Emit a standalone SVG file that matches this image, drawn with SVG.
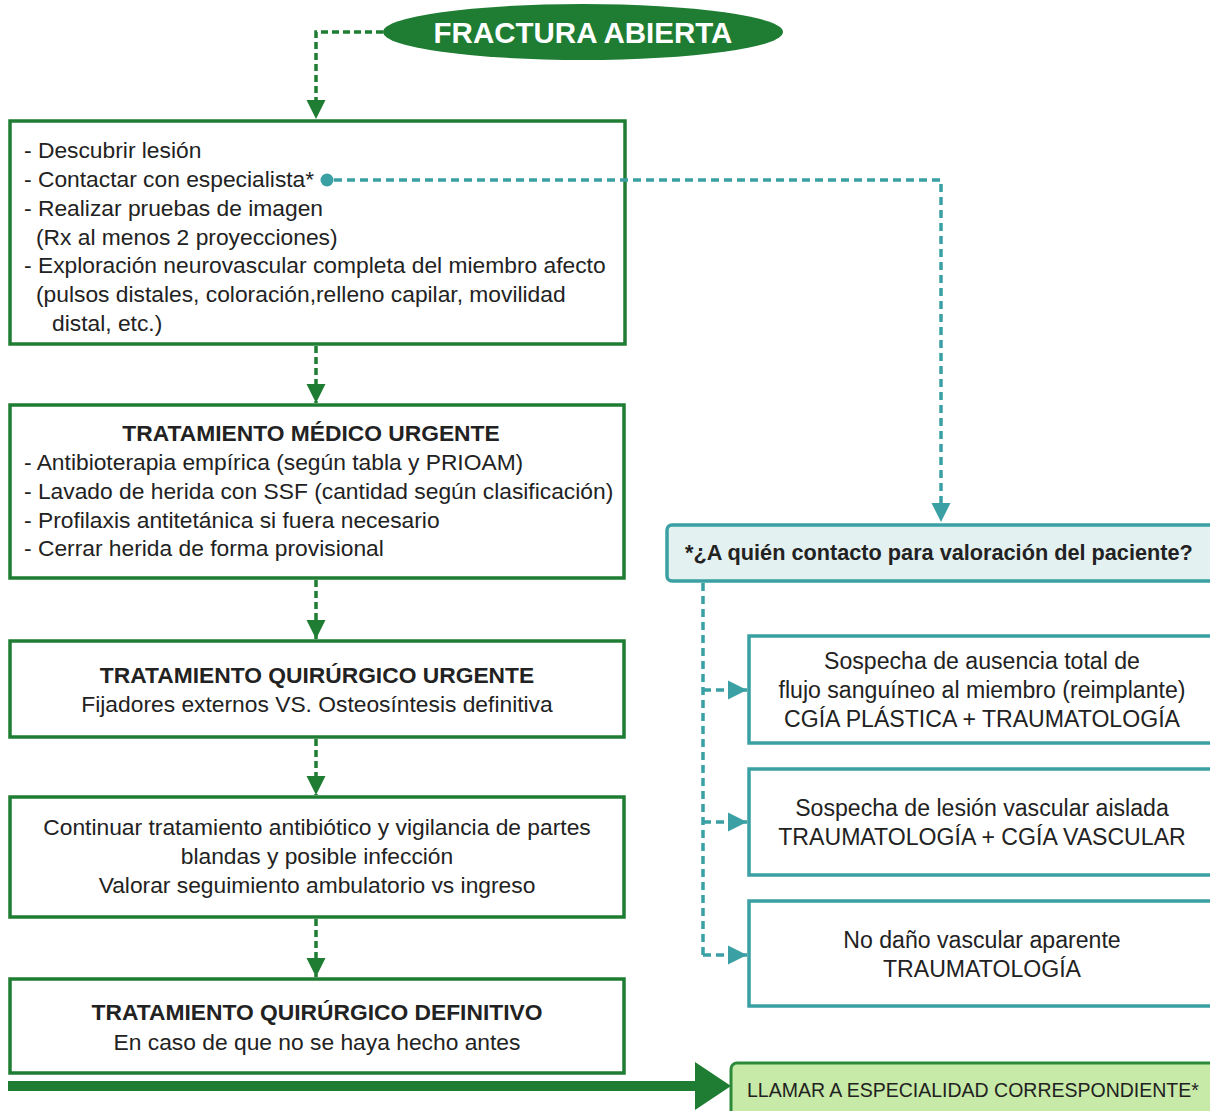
<svg xmlns="http://www.w3.org/2000/svg" width="1210" height="1111" viewBox="0 0 1210 1111">
<style>
.gbox{fill:#fff;stroke:#1e7d32;stroke-width:3.5}
.tbox{fill:#fff;stroke:#3aa0a4;stroke-width:3.5}
.t{font-family:"Liberation Sans Narrow","Liberation Sans",sans-serif;font-size:22.8px;fill:#222}
.r{font-size:23.1px}
.b{font-weight:bold}
.c{text-anchor:middle}
.gdash{fill:none;stroke:#1e7d32;stroke-width:3.5;stroke-dasharray:7 4}
.tdash{fill:none;stroke:#3aa0a4;stroke-width:3.5;stroke-dasharray:8 5}
</style>
<defs>
<marker id="ga" viewBox="0 0 10 10" refX="10" refY="5" markerWidth="5.5" markerHeight="5.5" orient="auto" markerUnits="strokeWidth"><path d="M0,0 L10,5 L0,10 Z" fill="#1e7d32"/></marker>
<marker id="ta" viewBox="0 0 10 10" refX="10" refY="5" markerWidth="5.5" markerHeight="5.5" orient="auto" markerUnits="strokeWidth"><path d="M0,0 L10,5 L0,10 Z" fill="#3aa0a4"/></marker>
</defs>
<rect width="1210" height="1111" fill="#fff"/>

<g id="fractura">
<ellipse cx="583" cy="32" rx="200" ry="28" fill="#1e7d32"/>
<text class="t b c" x="583" y="43" style="font-size:29.5px;fill:#fff">FRACTURA ABIERTA</text>
</g>

<g id="box1">
<rect class="gbox" x="10" y="121" width="615" height="223"/>
<text class="t" x="24" y="158">- Descubrir lesión</text>
<text class="t" x="24" y="187">- Contactar con especialista*</text>
<text class="t" x="24" y="216">- Realizar pruebas de imagen</text>
<text class="t" x="36" y="245">(Rx al menos 2 proyecciones)</text>
<text class="t" x="24" y="273">- Exploración neurovascular completa del miembro afecto</text>
<text class="t" x="36" y="302">(pulsos distales, coloración,relleno capilar, movilidad</text>
<text class="t" x="52" y="331">distal, etc.)</text>
</g>

<g id="box2">
<rect class="gbox" x="10" y="405" width="614" height="173"/>
<text class="t b c" x="311" y="441">TRATAMIENTO MÉDICO URGENTE</text>
<text class="t" x="24" y="470">- Antibioterapia empírica (según tabla y PRIOAM)</text>
<text class="t" x="24" y="499">- Lavado de herida con SSF (cantidad según clasificación)</text>
<text class="t" x="24" y="528">- Profilaxis antitetánica si fuera necesario</text>
<text class="t" x="24" y="556">- Cerrar herida de forma provisional</text>
</g>

<g id="box3">
<rect class="gbox" x="10" y="641" width="614" height="96"/>
<text class="t b c" x="317" y="683">TRATAMIENTO QUIRÚRGICO URGENTE</text>
<text class="t c" x="317" y="712">Fijadores externos VS. Osteosíntesis definitiva</text>
</g>

<g id="box4">
<rect class="gbox" x="10" y="797" width="614" height="120"/>
<text class="t c" x="317" y="835">Continuar tratamiento antibiótico y vigilancia de partes</text>
<text class="t c" x="317" y="864">blandas y posible infección</text>
<text class="t c" x="317" y="893">Valorar seguimiento ambulatorio vs ingreso</text>
</g>

<g id="box5">
<rect class="gbox" x="10" y="979" width="614" height="94"/>
<text class="t b c" x="317" y="1020">TRATAMIENTO QUIRÚRGICO DEFINITIVO</text>
<text class="t c" x="317" y="1050">En caso de que no se haya hecho antes</text>
</g>

<g id="pregunta">
<rect x="667" y="525" width="560" height="56" rx="5" fill="#e4f1f1" stroke="#3aa0a4" stroke-width="3.5"/>
<text class="t b" x="685" y="560" style="font-size:21.7px">*¿A quién contacto para valoración del paciente?</text>
</g>

<g id="opcion1">
<rect class="tbox" x="749" y="636" width="470" height="107"/>
<text class="t r c" x="982" y="669">Sospecha de ausencia total de</text>
<text class="t r c" x="982" y="698">flujo sanguíneo al miembro (reimplante)</text>
<text class="t r c" x="982" y="727">CGÍA PLÁSTICA + TRAUMATOLOGÍA</text>
</g>

<g id="opcion2">
<rect class="tbox" x="749" y="769" width="470" height="106"/>
<text class="t r c" x="982" y="816">Sospecha de lesión vascular aislada</text>
<text class="t r c" x="982" y="845">TRAUMATOLOGÍA + CGÍA VASCULAR</text>
</g>

<g id="opcion3">
<rect class="tbox" x="749" y="901" width="470" height="105"/>
<text class="t r c" x="982" y="948">No daño vascular aparente</text>
<text class="t r c" x="982" y="977">TRAUMATOLOGÍA</text>
</g>

<g id="llamar">
<rect x="731" y="1063" width="490" height="60" rx="6" fill="#c8eaa8" stroke="#2a8a3a" stroke-width="3"/>
<text class="t" x="747" y="1097" style="font-size:19.5px">LLAMAR A ESPECIALIDAD CORRESPONDIENTE*</text>
</g>

<g id="connectors">
<path class="gdash" d="M383,32 H316 V119" marker-end="url(#ga)"/>
<path class="gdash" d="M316,346 V403" marker-end="url(#ga)"/>
<path class="gdash" d="M316,580 V639" marker-end="url(#ga)"/>
<path class="gdash" d="M316,739 V795" marker-end="url(#ga)"/>
<path class="gdash" d="M316,919 V977" marker-end="url(#ga)"/>
<circle cx="327" cy="180" r="6.5" fill="#3aa0a4"/>
<path class="tdash" d="M334,180 H941 V522" marker-end="url(#ta)"/>
<path class="tdash" d="M703,583 V955"/>
<path class="tdash" d="M703,690 H747" marker-end="url(#ta)"/>
<path class="tdash" d="M703,822 H747" marker-end="url(#ta)"/>
<path class="tdash" d="M703,955 H747" marker-end="url(#ta)"/>
<line x1="8" y1="1086" x2="700" y2="1086" stroke="#1e7d32" stroke-width="10"/>
<path d="M695,1062 L731,1086 L695,1110 Z" fill="#1e7d32"/>
</g>
</svg>
